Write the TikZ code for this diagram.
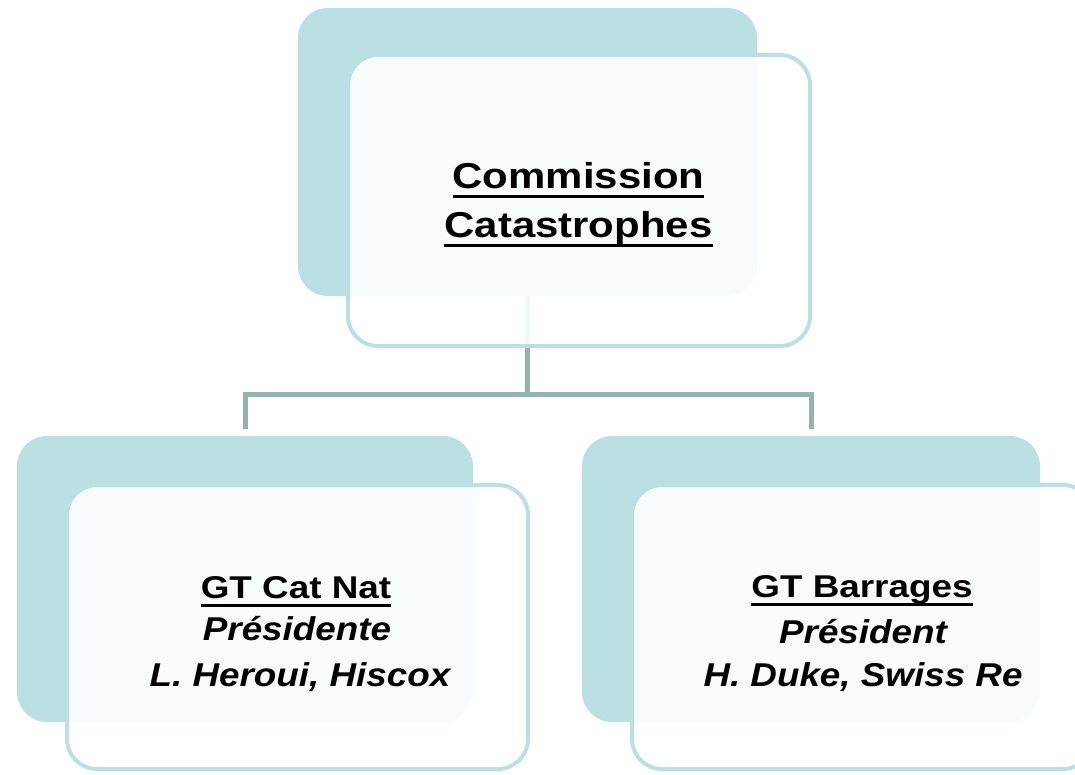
\documentclass[tikz,border=0pt]{standalone}
\usepackage{graphicx}
\usepackage{fontspec}
\setmainfont{Liberation Sans}
\definecolor{tealback}{RGB}{187,224,227}
\definecolor{connc}{RGB}{148,178,182}
\newcommand\ulbox[2]{\setbox0=\hbox{#2}\rlap{\rule[#1]{\wd0}{3pt}}\box0}
\begin{document}
\begin{tikzpicture}[x=1pt,y=-1pt,
  backbox/.style={fill=tealback, rounded corners=30pt, inner sep=0pt, outer sep=0pt},
  frontbox/.style={draw=tealback, line width=4pt, fill=white, fill opacity=0.9, draw opacity=1, rounded corners=30pt, inner sep=0pt, outer sep=0pt},
  conn/.style={draw=connc, line width=5pt},
  bigtxt/.style={anchor=base, inner sep=0pt, font=\fontsize{36}{42}\selectfont\bfseries},
  smtxt/.style={anchor=base, inner sep=0pt, font=\fontsize{31.5}{38}\selectfont\bfseries},
  smit/.style={anchor=base, inner sep=0pt, font=\fontsize{33}{40}\selectfont\bfseries\itshape}]
\useasboundingbox (0,0) rectangle (1075,774);
% back boxes and connectors
\node[backbox, minimum width=459pt, minimum height=288pt] (topback) at (527.5,152) {};
\coordinate (hub) at (527.5,394);
\node[backbox, minimum width=456pt, minimum height=286pt] (leftback) at (245,579) {};
\node[backbox, minimum width=458pt, minimum height=286pt] (rightback) at (811,579) {};
\draw[conn] (topback.south) -- (hub);
\draw[conn] ([yshift=7pt]leftback.north) |- (hub) -| ([yshift=7pt]rightback.north);
% front boxes
\node[frontbox, minimum width=462pt, minimum height=291pt] (topfront) at (579,200.5) {};
\node[frontbox, minimum width=461pt, minimum height=284pt] (leftfront) at (297.5,627) {};
\node[frontbox, minimum width=461pt, minimum height=284pt] (rightfront) at (862.5,627) {};
% texts
\node[bigtxt] (t1) at (578.5,188.5) {\scalebox{1.165}[1]{\ulbox{-9.5pt}{Commission}}};
\node[bigtxt] (t2) at (578.5,237) {\scalebox{1.165}[1]{\ulbox{-10pt}{Catastrophes}}};
\node[smtxt] (l1) at (296,598) {\scalebox{1.17}[1]{\ulbox{-9pt}{GT Cat Nat}}};
\node[smit] (l2) at (297,640) {\scalebox{1.115}[1]{Présidente}};
\node[smit] (l3) at (300,686) {\scalebox{1.115}[1]{L. Heroui, Hiscox}};
\node[smtxt] (r1) at (862,597) {\scalebox{1.17}[1]{\ulbox{-9pt}{GT Barrages}}};
\node[smit] (r2) at (863,643) {\scalebox{1.115}[1]{Président}};
\node[smit] (r3) at (863,686) {\scalebox{1.115}[1]{H. Duke, Swiss Re}};
\end{tikzpicture}
\end{document}
